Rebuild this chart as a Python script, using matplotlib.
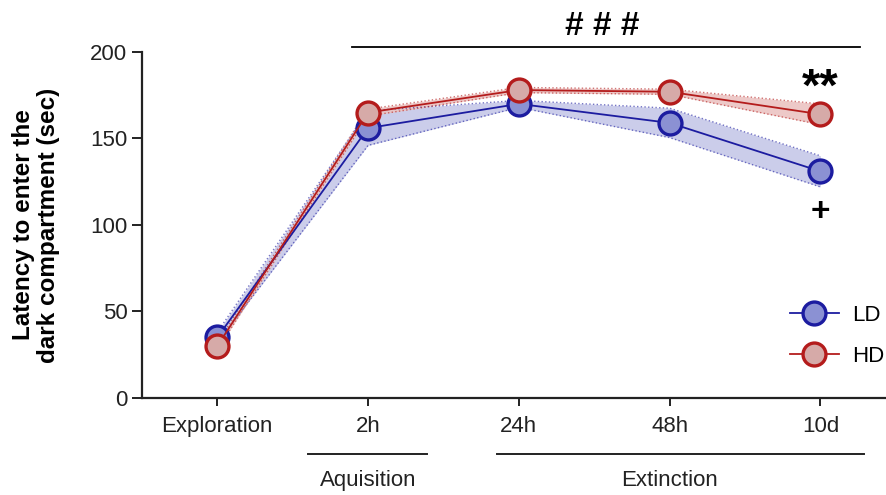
import matplotlib.pyplot as plt
import numpy as np

plt.rcParams["font.family"] = ["Liberation Sans", "DejaVu Sans"]

sessions = ["Exploration", "2h", "24h", "48h", "10d"]
ld_mean = [35, 156, 170, 159, 131]
ld_sem = [3, 10, 2, 8.5, 9]
hd_mean = [30, 165, 178, 177, 164]
hd_sem = [2, 2, 1.5, 1.5, 6]

x = np.arange(len(sessions))

fig = plt.figure(figsize=(8.87, 4.95), dpi=100)
ax = fig.add_axes([0.160, 0.196, 0.838, 0.699])

groups = [
    ("LD", ld_mean, ld_sem, "#1c1ca0", "#8b91d3", "#c6c8e8"),
    ("HD", hd_mean, hd_sem, "#b41c1c", "#d6aaa8", "#ebc4c2"),
]
for name, mean, sem, edge, face, band in groups:
    mean = np.array(mean)
    sem = np.array(sem)
    ax.fill_between(x, mean - sem, mean + sem, color=band, alpha=0.9, lw=0, zorder=1)
    ax.plot(x, mean - sem, ls=":", lw=1, color=edge, alpha=0.6, zorder=2)
    ax.plot(x, mean + sem, ls=":", lw=1, color=edge, alpha=0.6, zorder=2)
    ax.plot(x, mean, "-o", color=edge, lw=1.3, markersize=16.5, markeredgewidth=2.4,
            markerfacecolor=face, markeredgecolor=edge, label=name, zorder=3,
            clip_on=False)

ax.set_xlim(-0.5, 4.43)
ax.set_ylim(0, 200)
ax.set_yticks([0, 50, 100, 150, 200])
ax.set_xticks(x)
ax.set_xticklabels(sessions)
ax.tick_params(axis="both", labelsize=16, length=7, width=1.4, direction="out",
               colors="#222222")
ax.tick_params(axis="x", length=6, pad=7)
for side in ["top", "right"]:
    ax.spines[side].set_visible(False)
for side in ["left", "bottom"]:
    ax.spines[side].set_linewidth(1.6)
    ax.spines[side].set_color("#222222")

ax.set_ylabel("Latency to enter the\ndark compartment (sec)", fontsize=17.5,
              fontweight="bold", labelpad=22, linespacing=1.1)

# significance marks
ax.plot([0.894, 4.26], [203, 203], color="black", lw=1.3, clip_on=False)
ax.text(2.55, 215, "# # #", ha="center", va="center", fontsize=24, fontweight="bold")
ax.text(4.0, 179, "**", ha="center", va="center", fontsize=34, fontweight="bold")
ax.text(4.0, 107, "+", ha="center", va="center", fontsize=24, fontweight="bold")

# phase brackets under the axis
ax.plot([0.603, 1.39], [-32.5, -32.5], color="#222222", lw=1.4, clip_on=False)
ax.plot([1.854, 4.29], [-32.5, -32.5], color="#222222", lw=1.4, clip_on=False)
ax.text(1.0, -47.5, "Aquisition", ha="center", va="center", fontsize=16, color="#222222")
ax.text(3.0, -47.5, "Extinction", ha="center", va="center", fontsize=16, color="#222222")

ax.legend(loc="center left", bbox_to_anchor=(0.845, 0.18), frameon=False, fontsize=16,
          handlelength=2.2, labelspacing=0.9, handletextpad=0.6)

fig.savefig("out.png", dpi=100)
